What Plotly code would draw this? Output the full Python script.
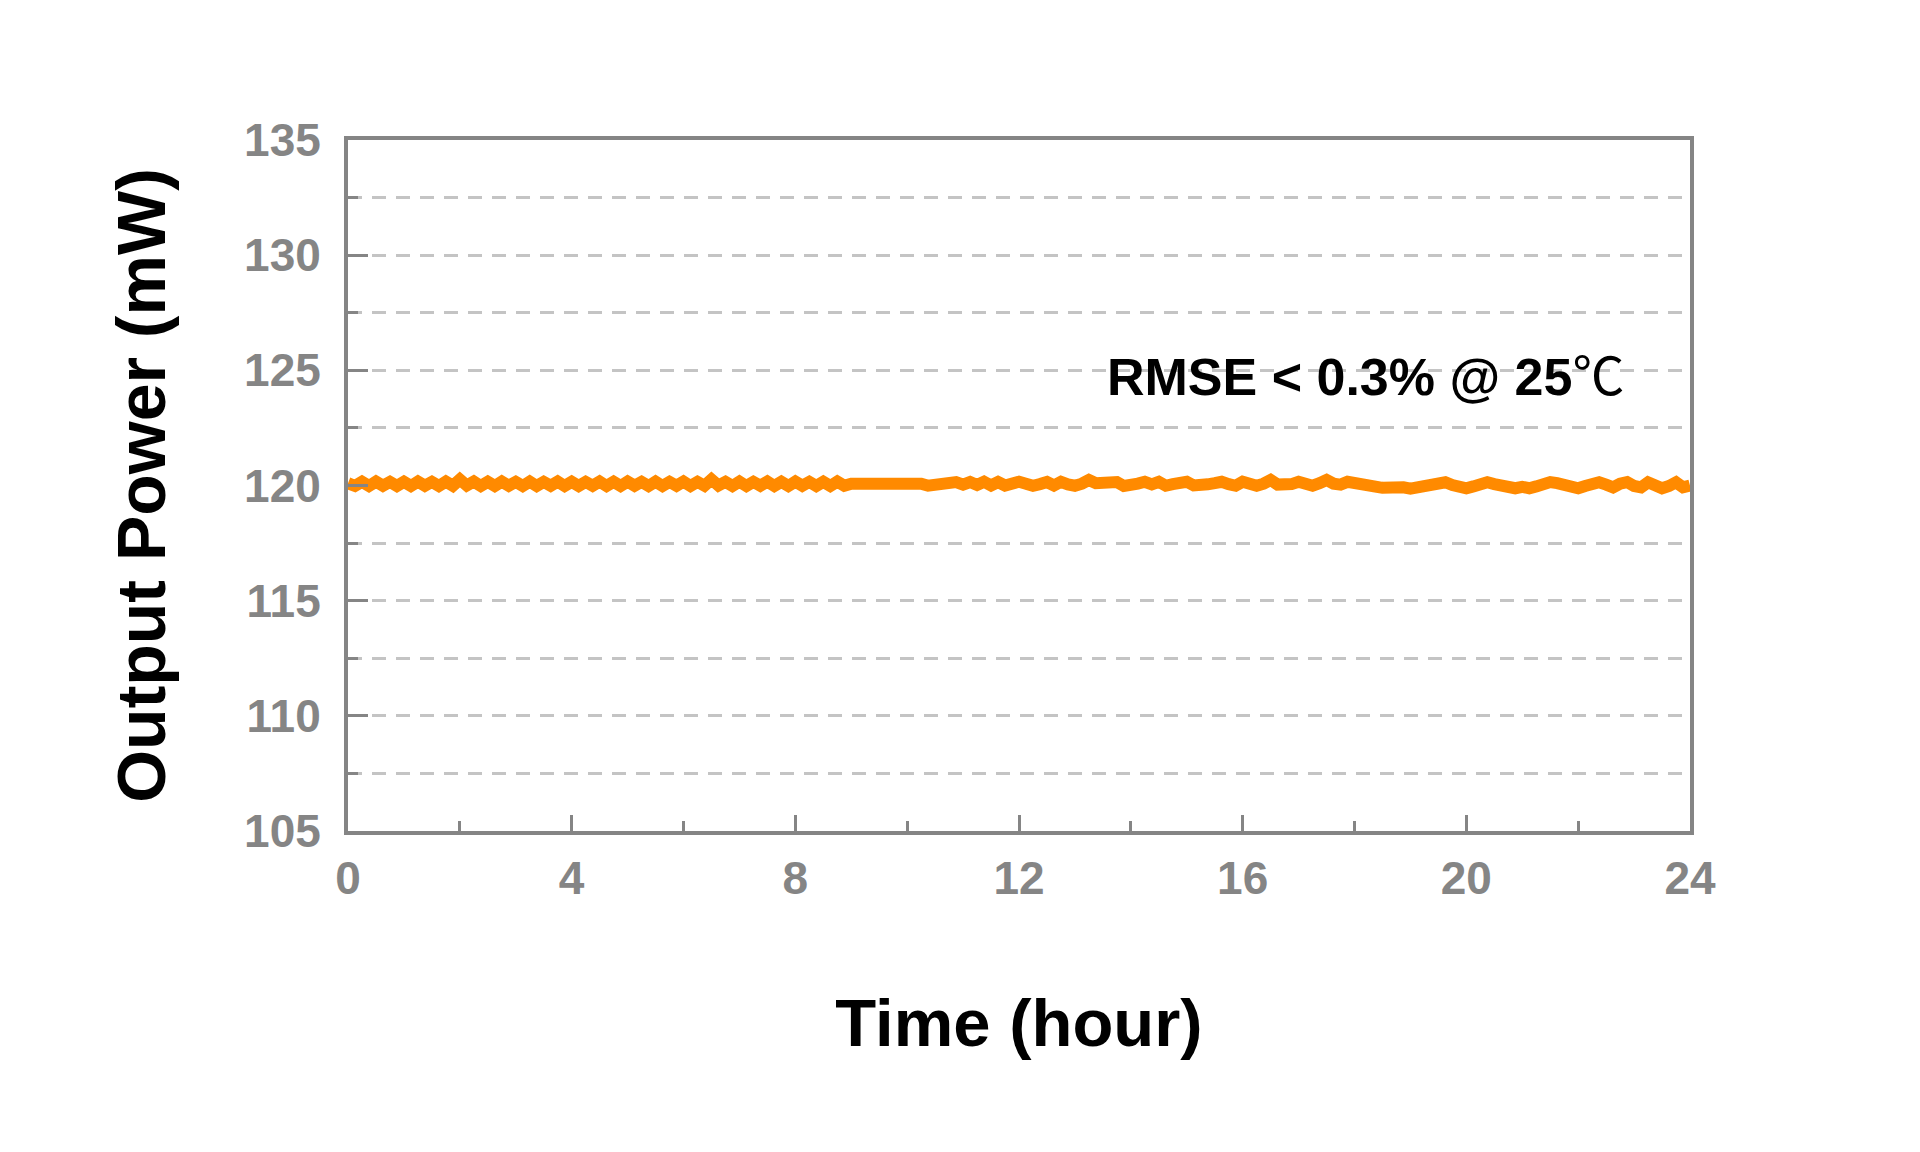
import plotly.graph_objects as go

# Time axis: one reading every 0.125 hour from 0 to 24 h
step_hours = 0.125
power_mw = [
    # 0 h
    120.10, 119.98, 120.16, 119.98, 120.17, 119.99, 120.16, 119.98,
    # 1 h
    120.16, 119.98, 120.17, 119.99, 120.16, 119.98, 120.17, 119.99,
    # 2 h
    120.26, 120.00, 120.17, 119.98, 120.16, 119.98, 120.17, 119.99,
    # 3 h
    120.16, 119.98, 120.17, 119.98, 120.16, 119.99, 120.17, 119.98,
    # 4 h
    120.16, 119.98, 120.16, 119.99, 120.17, 119.98, 120.16, 119.98,
    # 5 h
    120.17, 119.99, 120.16, 119.98, 120.17, 119.98, 120.16, 119.99,
    # 6 h
    120.17, 119.98, 120.16, 119.99, 120.26, 120.00, 120.16, 119.98,
    # 7 h
    120.17, 119.98, 120.16, 119.99, 120.17, 119.98, 120.16, 119.98,
    # 8 h
    120.17, 119.99, 120.16, 119.98, 120.16, 119.98, 120.17, 119.99,
    # 9 h
    120.08, 120.08, 120.08, 120.08, 120.15, 120.08, 120.15, 120.08,
    # 10 h
    120.08, 120.08, 120.08, 119.99, 120.02, 120.06, 120.10, 120.15,
    # 11 h
    120.04, 120.15, 120.02, 120.16, 120.00, 120.15, 120.00, 120.12,
    # 12 h
    120.16, 120.08, 119.99, 120.06, 120.15, 120.00, 120.16, 120.05,
    # 13 h
    119.99, 120.08, 120.24, 120.10, 120.15, 120.16, 120.15, 119.98,
    # 14 h
    119.97, 120.08, 120.16, 120.05, 120.16, 119.99, 120.06, 120.10,
    # 15 h
    120.16, 120.00, 119.98, 120.05, 120.10, 120.16, 120.06, 119.99,
    # 16 h
    120.16, 120.04, 119.99, 120.08, 120.24, 120.04, 119.99, 120.06,
    # 17 h
    120.16, 120.06, 119.99, 120.10, 120.24, 120.08, 120.04, 120.16,
    # 18 h
    120.14, 120.12, 120.05, 119.95, 119.90, 119.92, 119.96, 119.92,
    # 19 h
    119.86, 119.92, 119.88, 119.96, 120.06, 120.14, 120.02, 119.94,
    # 20 h
    119.88, 119.96, 120.06, 120.14, 120.06, 120.00, 119.92, 119.88,
    # 21 h
    119.94, 119.88, 119.96, 120.06, 120.15, 120.10, 120.00, 119.90,
    # 22 h
    119.88, 119.98, 120.06, 120.14, 120.04, 119.92, 120.08, 120.15,
    # 23 h
    119.98, 119.92, 120.14, 120.00, 119.88, 119.98, 120.14, 119.92,
    # 24 h
    120.00,
]
time_hours = [i * step_hours for i in range(len(power_mw))]

x_tick_values = [0, 4, 8, 12, 16, 20, 24]
y_tick_values = [105, 110, 115, 120, 125, 130, 135]
annotation_main = "RMSE < 0.3% @ 25"
annotation_unit = "℃"

FONT = "Liberation Sans, Arial, sans-serif"
AXIS_GRAY = "#858585"

fig = go.Figure()
fig.add_trace(go.Scatter(
    x=time_hours, y=power_mw, mode="lines",
    line=dict(color="#FF8A00", width=12),
    showlegend=False,
))

fig.add_annotation(
    x=18.2, y=124.9, xref="x", yref="y",
    text="<b>" + annotation_main + "</b>"
         + "<span style='font-family:Noto Sans CJK SC;font-weight:normal'>"
         + annotation_unit + "</span>",
    showarrow=False, xanchor="center", yanchor="middle",
    font=dict(family=FONT, size=52, color="#000000"),
)

# page body adds a small offset; compensate so the plot box lands where intended
fig.update_layout(
    width=1912, height=1144,
    paper_bgcolor="white", plot_bgcolor="white",
    margin=dict(l=340, r=230, t=132, b=321),
    font=dict(family=FONT),
)

fig.update_xaxes(
    range=[0, 24], tickvals=x_tick_values,
    ticktext=["<b>%d</b>" % v for v in x_tick_values],
    tickfont=dict(family=FONT, size=46, color=AXIS_GRAY),
    ticks="inside", ticklen=16, tickwidth=3, tickcolor=AXIS_GRAY,
    showline=True, linecolor=AXIS_GRAY, linewidth=4, mirror=True,
    showgrid=False, zeroline=False,
    minor=dict(dtick=2, tick0=0, ticks="inside", ticklen=10, tickwidth=3,
               tickcolor=AXIS_GRAY, showgrid=False),
    title=dict(text="<b>Time (hour)</b>", standoff=97,
               font=dict(family=FONT, size=67, color="#000000")),
    ticklabelstandoff=4,
)

fig.update_yaxes(
    range=[105, 135], tickvals=y_tick_values,
    ticktext=["<b>%d</b>" % v for v in y_tick_values],
    tickfont=dict(family=FONT, size=46, color=AXIS_GRAY),
    ticks="inside", ticklen=20, tickwidth=3, tickcolor=AXIS_GRAY,
    showline=True, linecolor=AXIS_GRAY, linewidth=4, mirror=True,
    showgrid=False, zeroline=False,
    minor=dict(dtick=2.5, tick0=105, ticks="inside", ticklen=10, tickwidth=3,
               tickcolor=AXIS_GRAY, showgrid=True, gridcolor="#c4c4c4",
               gridwidth=2.5, griddash="14px,10px"),
    title=dict(text="<b>Output Power (mW)</b>", standoff=57,
               font=dict(family=FONT, size=68, color="#000000")),
    ticklabelstandoff=14,
)

fig.write_html("out.html")
